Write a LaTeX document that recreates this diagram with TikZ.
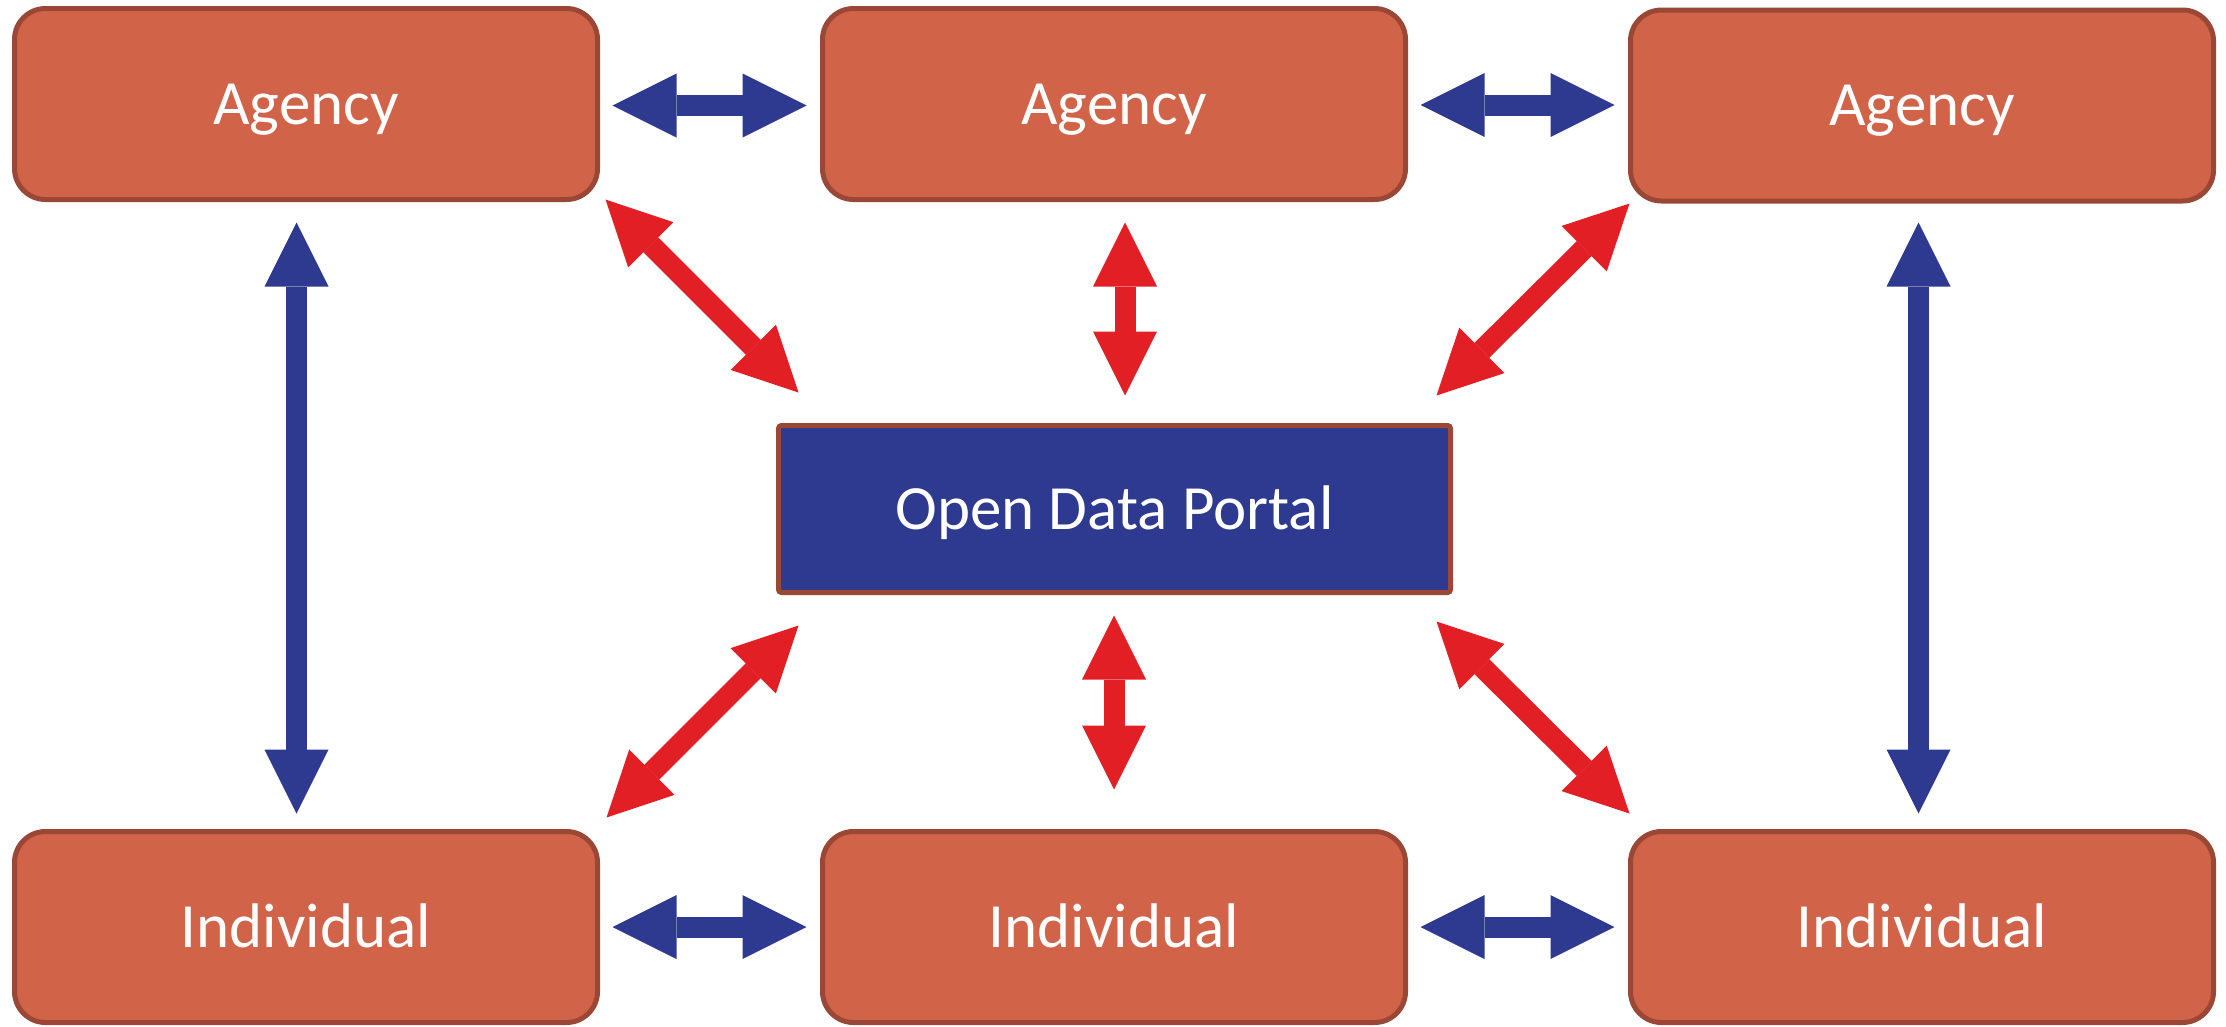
\documentclass[tikz,border=0pt]{standalone}
\usepackage{fontspec}
\setmainfont{Carlito}
\usetikzlibrary{arrows.meta}

\definecolor{boxfill}{RGB}{209,99,73}
\definecolor{boxedge}{RGB}{154,71,53}
\definecolor{portalblue}{RGB}{46,58,143}
\definecolor{linkred}{RGB}{227,31,38}

\tikzset{
  party/.style={draw=boxedge, fill=boxfill, line width=5pt, rounded corners=31pt,
    minimum width=583pt, minimum height=191pt, inner sep=0pt, outer sep=0pt,
    text=white, font=\fontsize{63}{75}\selectfont, text height=40pt, text depth=0pt},
  portal/.style={party, fill=portalblue, rounded corners=3pt,
    minimum width=672pt, minimum height=167pt},
  bigtip/.tip={Triangle[length=64pt, width=64pt, line width=0pt]},
  peerlink/.style={draw=portalblue, line width=21pt, bigtip-bigtip},
  hublink/.style={draw=linkred, line width=21pt, bigtip-bigtip}
}

\begin{document}
\begin{tikzpicture}[x=1pt, y=-1pt]
  \useasboundingbox (0,0) rectangle (2226,1026);

  % agencies along the top, individuals along the bottom
  \node[party] (a1) at (306,104) {Agency};
  \node[party] (a2) at (1114,104) {Agency};
  \node[party] (a3) at (1922,105.5) {Agency};
  \node[party] (i1) at (306,927) {Individual};
  \node[party] (i2) at (1114,927) {Individual};
  \node[party] (i3) at (1922,927) {Individual};

  % the shared portal in the middle
  \node[portal] (odp) at (1114.5,509) {Open Data Portal};

  % direct exchanges between neighbours
  \draw[peerlink] ([shift={(15,1.5)}]a1.east) -- ([shift={(-16,1.5)}]a2.west);
  \draw[peerlink] ([shift={(15,1)}]a2.east) -- ([shift={(-16,-0.5)}]a3.west);
  \draw[peerlink] ([shift={(15,0)}]i1.east) -- ([shift={(-16,0)}]i2.west);
  \draw[peerlink] ([shift={(15,0)}]i2.east) -- ([shift={(-16,0)}]i3.west);
  \draw[peerlink] ([shift={(-9.5,23)}]a1.south) -- ([shift={(-9.5,-18)}]i1.north);
  \draw[peerlink] ([shift={(-3.5,21.5)}]a3.south) -- ([shift={(-3.5,-18)}]i3.north);

  % exchanges through the portal
  \draw[hublink] ([shift={(11,23)}]a2.south) -- ([shift={(10.5,-30)}]odp.north);
  \draw[hublink] ([shift={(-0.5,23)}]odp.south) -- ([shift={(0,-42)}]i2.north);
  \draw[hublink] ([shift={(8,0)}]a1.south east) -- ([shift={(20,-33)}]odp.north west);
  \draw[hublink] ([shift={(-1,2.5)}]a3.south west) -- ([shift={(-14,-30)}]odp.north east);
  \draw[hublink] ([shift={(20,33)}]odp.south west) -- ([shift={(9,-14)}]i1.north east);
  \draw[hublink] ([shift={(-14,29)}]odp.south east) -- ([shift={(-1,-18)}]i3.north west);
\end{tikzpicture}
\end{document}
